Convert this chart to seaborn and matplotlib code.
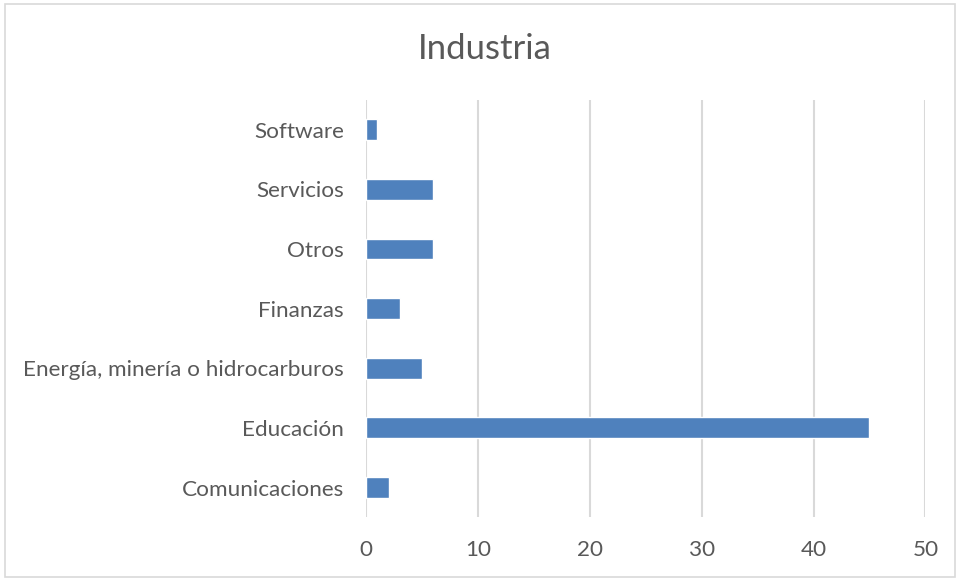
import matplotlib
matplotlib.use('Agg')
import matplotlib.pyplot as plt
import seaborn as sns
import pandas as pd
from matplotlib.patches import Rectangle

# Data
categories = ['Software', 'Servicios', 'Otros', 'Finanzas',
              'Energía, minería o hidrocarburos', 'Educación', 'Comunicaciones']
values = [1, 6, 6, 3, 5, 45, 2]
xticks = [0, 10, 20, 30, 40, 50]

BAR_COLOR = '#4F81BD'
TEXT_COLOR = '#595959'
GRID_COLOR = '#D9D9D9'

sns.set_style('white')
plt.rcParams['font.family'] = ['Lato', 'DejaVu Sans']

df = pd.DataFrame({'industria': categories, 'valor': values})

fig = plt.figure(figsize=(9.56, 5.78), dpi=100)
ax = fig.add_axes([0.383, 0.105, 0.585, 0.722])

sns.barplot(data=df, x='valor', y='industria', order=categories,
            color=BAR_COLOR, saturation=1, width=0.35, ax=ax)

ax.set_xlim(0, 50)
ax.set_xticks(xticks)
ax.xaxis.grid(True, color=GRID_COLOR, linewidth=1.5)
ax.set_axisbelow(True)
for side in ['top', 'right', 'bottom', 'left']:
    ax.spines[side].set_visible(False)
ax.tick_params(axis='both', length=0, labelsize=16.2, colors=TEXT_COLOR)
ax.tick_params(axis='x', pad=16)
ax.tick_params(axis='y', pad=16)
ax.set_xlabel('')
ax.set_ylabel('')

fig.text(0.507, 0.915, 'Industria', ha='center', va='center',
         fontsize=25, color=TEXT_COLOR)

# light chart border
fig.patches.append(Rectangle((5 / 956, 1 / 578), 950 / 956, 573 / 578,
                             transform=fig.transFigure, fill=False,
                             edgecolor=GRID_COLOR, linewidth=1.2))

fig.savefig('out.png', dpi=100)
